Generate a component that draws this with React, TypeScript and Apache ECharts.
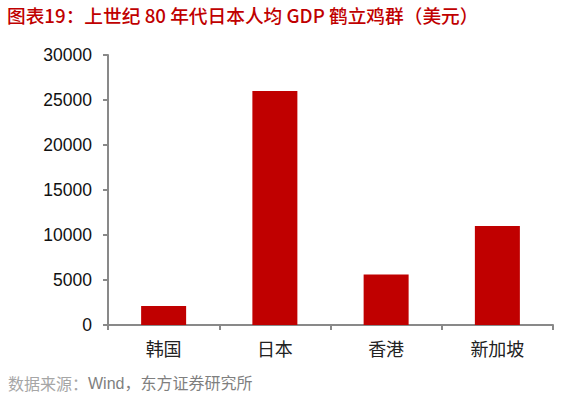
import React, { useEffect, useRef } from "react";
import * as echarts from "echarts";

const categories = ["韩国", "日本", "香港", "新加坡"];
const gdpValues = [2100, 26000, 5600, 11000];
const titleText = "图表19：上世纪 80 年代日本人均 GDP 鹤立鸡群（美元）";
const sourceLabel = "数据来源：";
const sourceText = "Wind，东方证券研究所";

export default function App() {
  const ref = useRef<HTMLDivElement>(null);
  useEffect(() => {
    const chart = echarts.init(ref.current!, null, { renderer: "svg" });
    chart.setOption({
      animation: false,
      backgroundColor: "#ffffff",
      graphic: [
        {
          type: "text",
          left: 7,
          top: 5,
          style: {
            text: titleText,
            fill: "#C00000",
            font: "500 18.7px 'Noto Sans CJK SC', sans-serif",
          },
        },
        {
          type: "text",
          left: 8,
          top: 375,
          style: {
            text: sourceLabel,
            fill: "#a6a6a6",
            font: "16px 'Noto Sans CJK SC', sans-serif",
          },
        },
        {
          type: "text",
          left: 88,
          top: 375,
          style: {
            text: sourceText,
            fill: "#7f7f7f",
            font: "16px 'Liberation Sans', 'Noto Sans CJK SC', sans-serif",
          },
        },
      ],
      grid: { left: 108, right: 22, top: 55, bottom: 73, containLabel: false },
      xAxis: {
        type: "category",
        data: categories,
        axisLine: { lineStyle: { color: "#898989", width: 2 } },
        axisTick: { show: true, length: 5, lineStyle: { color: "#898989", width: 2 } },
        axisLabel: {
          color: "#222",
          fontSize: 18,
          fontFamily: "'Noto Sans CJK SC', sans-serif",
          margin: 14,
        },
      },
      yAxis: {
        type: "value",
        min: 0,
        max: 30000,
        interval: 5000,
        axisLine: { show: true, lineStyle: { color: "#898989", width: 2 } },
        axisTick: { show: true, length: 5, lineStyle: { color: "#898989", width: 2 } },
        splitLine: { show: false },
        axisLabel: {
          color: "#111",
          fontSize: 17.5,
          fontFamily: "'Liberation Sans', Arial, sans-serif",
          margin: 16,
          formatter: (v: number) => String(v),
        },
      },
      series: [
        {
          type: "bar",
          data: gdpValues,
          barWidth: 45,
          itemStyle: { color: "#C00000" },
        },
      ],
    });
    return () => chart.dispose();
  }, []);
  return <div ref={ref} style={{ width: 575, height: 398, position: "absolute", left: 0, top: 0 }} />;
}
